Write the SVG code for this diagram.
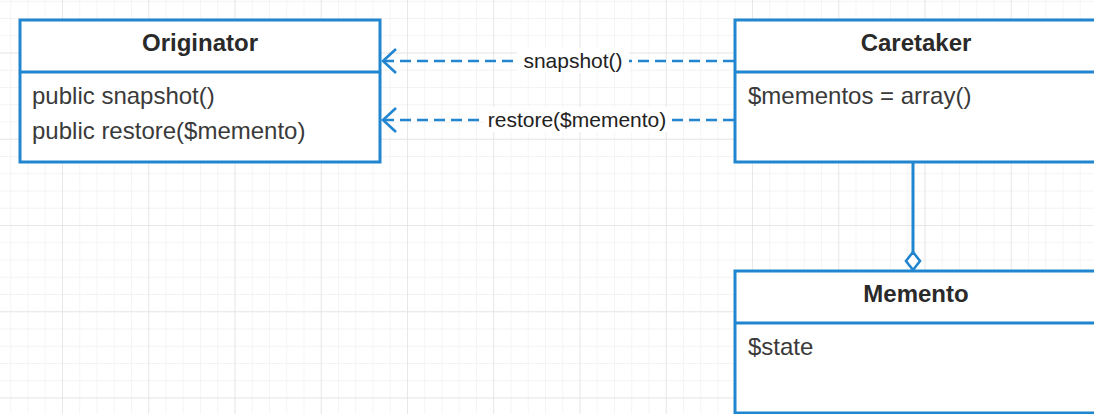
<svg xmlns="http://www.w3.org/2000/svg" width="1094" height="414" viewBox="0 0 1094 414">
<defs>
<pattern id="minor" patternUnits="userSpaceOnUse" x="62" y="52.5" width="17.25" height="17.25">
<path d="M0 0 V17.25 M0 0 H17.25" fill="none" stroke="#efefef" stroke-width="1.2"/>
</pattern>
<pattern id="major" patternUnits="userSpaceOnUse" x="62" y="52.5" width="86.25" height="86.25">
<path d="M0 0 V86.25 M0 0 H86.25" fill="none" stroke="#e3e3e3" stroke-width="1.4"/>
</pattern>
<marker id="open" markerUnits="userSpaceOnUse" viewBox="0 0 18 28" refX="15" refY="14" markerWidth="18" markerHeight="28" orient="auto">
<path d="M2 2 L15 14 L2 26" fill="none" stroke="#2185d0" stroke-width="2.6"/>
</marker>
</defs>
<style>
.box{fill:#ffffff;stroke:#2185d0;stroke-width:3}
.div{stroke:#2185d0;stroke-width:3}
.title{font-family:"Liberation Sans",Arial,sans-serif;font-size:24px;font-weight:bold;fill:#2a2a2a;text-anchor:middle}
.body{font-family:"Liberation Sans",Arial,sans-serif;font-size:24px;fill:#3a3a3a}
.lbl{font-family:"Liberation Sans",Arial,sans-serif;font-size:21px;fill:#222222;text-anchor:middle}
.dash{fill:none;stroke:#2185d0;stroke-width:2.6;stroke-dasharray:11 6}
.solid{fill:none;stroke:#2185d0;stroke-width:3}
</style>
<rect width="1094" height="414" fill="#ffffff"/>
<rect width="1094" height="414" fill="url(#minor)"/>
<rect width="1094" height="414" fill="url(#major)"/>

<g id="originator">
<rect class="box" x="20" y="20" width="360" height="142"/>
<line class="div" x1="20" y1="72" x2="380" y2="72"/>
<text class="title" x="200" y="51">Originator</text>
<text class="body" x="32" y="104">public snapshot()</text>
<text class="body" x="32" y="139">public restore($memento)</text>
</g>

<g id="caretaker">
<rect class="box" x="735" y="20" width="370" height="142"/>
<line class="div" x1="735" y1="72" x2="1100" y2="72"/>
<text class="title" x="916" y="51">Caretaker</text>
<text class="body" x="748" y="104">$mementos = array()</text>
</g>

<g id="memento">
<rect class="box" x="735" y="271" width="370" height="142"/>
<line class="div" x1="735" y1="323" x2="1100" y2="323"/>
<text class="title" x="916" y="302">Memento</text>
<text class="body" x="748" y="355">$state</text>
</g>

<g id="connectors">
<path class="dash" d="M734 61 H383" marker-end="url(#open)"/>
<path class="dash" d="M734 120 H383" marker-end="url(#open)"/>
<rect x="517" y="48" width="112" height="25" fill="#ffffff"/>
<text class="lbl" x="573" y="68">snapshot()</text>
<rect x="484" y="107" width="188" height="25" fill="#ffffff"/>
<text class="lbl" x="577" y="127">restore($memento)</text>
<path class="solid" d="M913 163 V252"/>
<path d="M913 252 L920 261 L913 270 L906 261 Z" fill="#ffffff" stroke="#2185d0" stroke-width="2.6"/>
</g>
</svg>
